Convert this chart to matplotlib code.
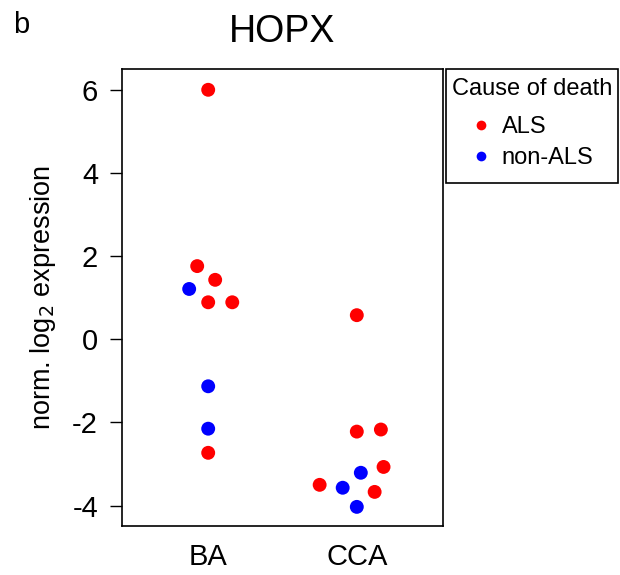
import matplotlib
matplotlib.use("Agg")
import matplotlib.pyplot as plt
from matplotlib.lines import Line2D
from matplotlib.patches import Rectangle

plt.rcParams['font.family'] = ['Liberation Sans', 'DejaVu Sans']
plt.rcParams['axes.unicode_minus'] = False

# groups on the x axis
groups = ['BA', 'CCA']

# BA samples
ba_values = [6.0, 1.76, 1.43, 1.21, 0.89, 0.89, -1.13, -2.15, -2.73]
ba_jitter = [0.0, -0.074, 0.047, -0.128, 0.0, 0.162, 0.0, 0.0, 0.0]
ba_cause = ['ALS', 'ALS', 'ALS', 'non-ALS', 'ALS', 'ALS', 'non-ALS', 'non-ALS', 'ALS']

# CCA samples
cca_values = [0.58, -2.22, -2.17, -3.07, -3.21, -3.50, -3.57, -3.67, -4.03]
cca_jitter = [0.0, 0.0, 0.162, 0.18, 0.027, -0.25, -0.095, 0.12, 0.0]
cca_cause = ['ALS', 'ALS', 'ALS', 'ALS', 'non-ALS', 'ALS', 'non-ALS', 'ALS', 'non-ALS']

colours = {'ALS': '#ff0000', 'non-ALS': '#0000ff'}

fig = plt.figure(figsize=(6.2, 5.75), dpi=100)
ax = fig.add_axes([122/620, 1 - 526/575, 321/620, 457/575])

for i, (vals, jit, cause) in enumerate([(ba_values, ba_jitter, ba_cause),
                                        (cca_values, cca_jitter, cca_cause)]):
    xs = [i + 1 + j for j in jit]
    cs = [colours[c] for c in cause]
    ax.scatter(xs, vals, s=100, c=cs, edgecolors='none', zorder=3)

ax.set_xlim(0.42, 2.58)
ax.set_ylim(-4.49, 6.5)
ax.set_xticks([1, 2])
ax.set_xticklabels(groups)
ax.set_yticks([-4, -2, 0, 2, 4, 6])
ax.tick_params(axis='x', length=0, pad=12, labelsize=21)
ax.tick_params(axis='y', length=8.6, width=1, pad=8.6, labelsize=21)
for sp in ax.spines.values():
    sp.set_linewidth(1.2)
ax.set_ylabel('norm. log$_2$ expression', fontsize=19.5, labelpad=10)
ax.set_title('HOPX', fontsize=27, pad=19.5)

fig.text(13/620, 1 - 33/575, 'b', fontsize=21)

# legend: box and title drawn by hand, entries from fig.legend
fig.patches.append(Rectangle((446/620, 1 - 183/575), 172/620, 114/575,
                             transform=fig.transFigure, fill=False,
                             linewidth=1.2, edgecolor='black'))
fig.text(452/620, 1 - 89/575, 'Cause of death', fontsize=17, va='center', ha='left')
handles = [Line2D([], [], marker='o', linestyle='none', color=colours[k],
                  markersize=7, markeredgewidth=0) for k in ['ALS', 'non-ALS']]
leg = fig.legend(handles, ['ALS', 'non-ALS'], frameon=False,
                 loc='upper left', bbox_to_anchor=(452/620, 1 - 116/575),
                 borderaxespad=0, borderpad=0, fontsize=17,
                 labelspacing=0.38, handlelength=2.45, handletextpad=-0.35)

fig.savefig('out.png', dpi=100)
